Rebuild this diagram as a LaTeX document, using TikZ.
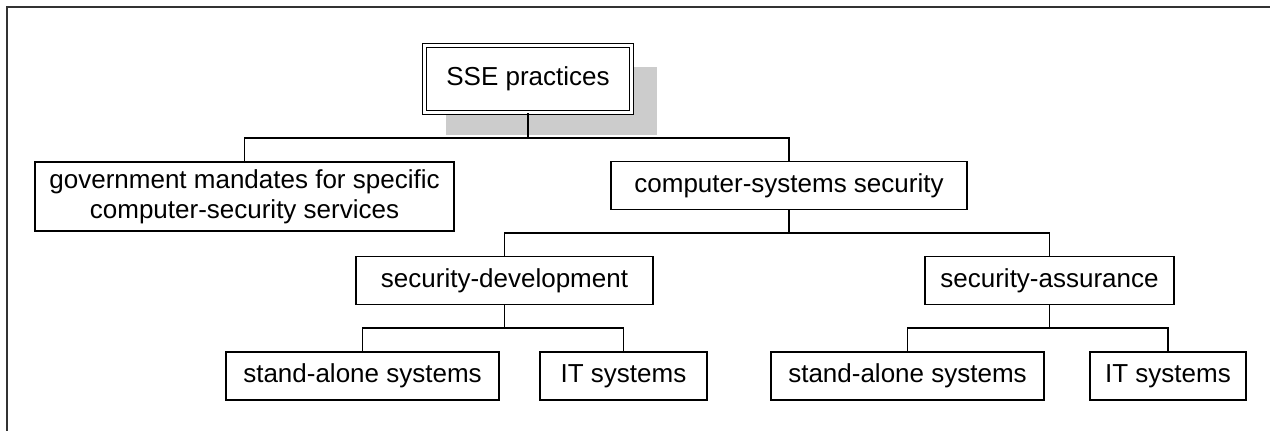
\documentclass[tikz,border=0pt]{standalone}
\usepackage{fontspec}
\setmainfont{Liberation Sans}
\usetikzlibrary{backgrounds}

\tikzset{
  box/.style={draw, fill=white, line width=1.9pt, inner sep=0pt, minimum height=48pt,
    font=\fontsize{26}{30}\selectfont, align=center},
  link/.style={line width=1.9pt}
}

\begin{document}
\begin{tikzpicture}[x=1pt, y=-1pt]
      \useasboundingbox (0, 0) rectangle (1270, 431);
      \draw[line width=1.6pt, black!80] (7, 431) -- (7, 7) -- (1270, 7);
      \node[box, double, double distance=2.2pt, line width=1.6pt, minimum width=207pt, minimum height=67pt] (sse) at (528, 79) {SSE practices};
      \node[box, minimum width=419pt, minimum height=69pt] (gov) at (244.5, 196.5) {government mandates for specific\\computer-security services};
      \node[box, minimum width=356pt] (css) at (789, 185.5) {computer-systems security};
      \node[box, minimum width=297pt] (dev) at (504.5, 280.5) {security-development};
      \node[box, minimum width=249pt] (asr) at (1049.5, 280.5) {security-assurance};
      \node[box, minimum width=273pt] (devsa) at (362.5, 376) {stand-alone systems};
      \node[box, minimum width=167pt] (devit) at (623.5, 376) {IT systems};
      \node[box, minimum width=273pt] (asrsa) at (907.5, 376) {stand-alone systems};
      \node[box, minimum width=156pt] (asrit) at (1168, 376) {IT systems};
      \begin{scope}[on background layer]
        \fill[black!20] ([shift={(22, 22)}]sse.south west) rectangle ([shift={(25, 22)}]sse.north east);
      \end{scope}
      \coordinate (bus1) at (0, 138);
      \coordinate (bus2) at (0, 233);
      \coordinate (bus3) at (0, 328);
      \draw[link] (sse.south) -- (sse.south |- bus1);
      \draw[link] (gov.north) |- (css.north |- bus1) -- (css.north);
      \draw[link] (css.south) -- (css.south |- bus2);
      \draw[link] (dev.north) |- (asr.north |- bus2) -- (asr.north);
      \draw[link] (dev.south) -- (dev.south |- bus3);
      \draw[link] (devsa.north) |- (devit.north |- bus3) -- (devit.north);
      \draw[link] (asr.south) -- (asr.south |- bus3);
      \draw[link] (asrsa.north) |- (asrit.north |- bus3) -- (asrit.north);
    \end{tikzpicture}
\end{document}
